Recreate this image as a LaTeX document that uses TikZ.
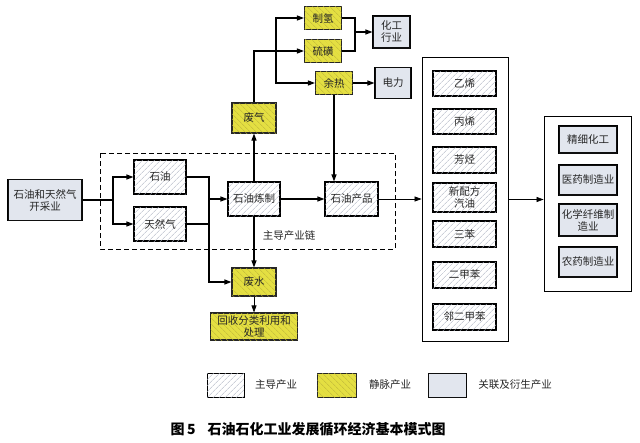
\documentclass[tikz,border=0pt]{standalone}
\usepackage{fontspec}
\setmainfont{Noto Sans CJK SC}
\usetikzlibrary{arrows.meta,patterns.meta}
\definecolor{jmyel}{HTML}{E4DF42}
\definecolor{jmline}{HTML}{BDB53A}
\definecolor{glfill}{HTML}{E6EAF3}
\definecolor{zdline}{HTML}{B0B6C4}
\tikzset{
  every node/.style={font=\fontsize{10.5}{12}\selectfont, align=center, inner sep=0.5pt, text=black!85},
  zd/.style={draw=black, line width=1.1pt, fill=white, postaction={pattern={Lines[angle=45,distance=4pt,line width=0.5pt]}, pattern color=zdline}},
  jm/.style={draw=black!85, line width=1.1pt, fill=jmyel, postaction={pattern={Lines[angle=-45,distance=4pt,line width=0.6pt]}, pattern color=jmline}},
  gl/.style={draw=black, line width=1.1pt, fill=glfill, postaction={pattern={Dots[distance=2pt,radius=0.35pt]}, pattern color=black!25}},
  frame/.style={draw=black, line width=0.8pt},
  conn/.style={line width=1.1pt},
  arr/.style={line width=1.1pt, -{Triangle[length=7pt,width=5pt]}},
  tarr/.style={line width=0.7pt, -{Triangle[length=7pt,width=5pt]}},
}
\begin{document}
\begin{tikzpicture}[x=1pt,y=-1pt]
\useasboundingbox (0,0) rectangle (640,442);
% dashed main chain frame
\draw[line width=0.9pt, dash pattern=on 5pt off 3pt] (100,153) rectangle (395,249);
% nodes
\node[gl, minimum width=74, minimum height=41] (kc) at (45,200) {石油和天然气\\开采业};
\node[zd, minimum width=52, minimum height=34] (sy) at (160,177) {石油};
\node[zd, minimum width=52, minimum height=34] (trq) at (160,224) {天然气};
\node[zd, minimum width=52, minimum height=34] (lz) at (254,199) {石油炼制};
\node[zd, minimum width=53, minimum height=34] (cp) at (351.5,199) {石油产品};
\node (zdl) at (289,236) {主导产业链};
\node[jm, minimum width=44, minimum height=30] (fq) at (254,118) {废气};
\node[jm, minimum width=44, minimum height=28] (fs) at (254,282) {废水};
\node[jm, minimum width=87, minimum height=27] (hs) at (254,326.5) {回收分类利用和\\处理};
\node[jm, minimum width=37, minimum height=23] (zq) at (323,18) {制氢};
\node[jm, minimum width=37, minimum height=23] (lh) at (323,51) {硫磺};
\node[jm, minimum width=37, minimum height=23] (yr) at (334,83) {余热};
\node[gl, minimum width=37, minimum height=32] (hg) at (391.5,32) {化工\\行业};
\node[gl, minimum width=36, minimum height=31] (dl) at (393,83) {电力};
% product column
\node[frame, minimum width=86, minimum height=284] (col) at (465,199.5) {};
\node[zd, minimum width=63, minimum height=25] (yx) at (464.5,83.5) {乙烯};
\node[zd, minimum width=63, minimum height=25] (bx) at (464.5,121.5) {丙烯};
\node[zd, minimum width=63, minimum height=26] (ft) at (464.5,160) {芳烃};
\node[zd, minimum width=63, minimum height=29] (xpf) at (464.5,197.5) {新配方\\汽油};
\node[zd, minimum width=63, minimum height=26] (sb) at (464.5,234) {三苯};
\node[zd, minimum width=63, minimum height=26] (ejb) at (464.5,275) {二甲苯};
\node[zd, minimum width=63, minimum height=26] (lejb) at (464.5,317) {邻二甲苯};
% derived column
\node[frame, minimum width=87, minimum height=175] (rb) at (587.5,203.5) {};
\node[gl, minimum width=58, minimum height=27] (jx) at (588,139.5) {精细化工};
\node[gl, minimum width=58, minimum height=30] (yy) at (588,180) {医药制造业};
\node[gl, minimum width=58, minimum height=32] (hx) at (588,220) {化学纤维制\\造业};
\node[gl, minimum width=58, minimum height=30] (ny) at (588,262) {农药制造业};
% connectors
\coordinate (b1) at (113,200);
\draw[conn] (kc.east) -- (b1);
\draw[arr] (b1) |- (sy.west);
\draw[arr] (b1) |- (trq.west);
\coordinate (b2) at (209,199);
\draw[arr] (sy.east) -| (b2) |- (fs.west);
\draw[conn] (trq.east) -| (b2);
\draw[arr] (b2) -- (lz.west);
\draw[arr] (lz) -- (cp);
\draw[tarr] (cp.east) -- (cp.east -| col.west);
\draw[arr] (lz.north) -- (fq.south);
\draw[arr] (lz.south) -- (fs.north);
\draw[tarr] (fs.south) -- (hs.north);
\draw[arr] (fq.north) |- (lh.west);
\coordinate (b3) at (276,51);
\draw[arr] (b3) |- (zq.west);
\draw[arr] (b3) |- (yr.west);
\coordinate (b4) at (355,32);
\draw[conn] (zq.east) -| (b4);
\draw[conn] (lh.east) -| (b4);
\draw[arr] (b4) -- (hg.west);
\draw[arr] (yr) -- (dl);
\draw[arr] (yr.south) -- (yr.south |- cp.north);
\draw[tarr] (col.east) -- (col.east -| rb.west);
% legend
\node[zd, line width=0.8pt, minimum width=37, minimum height=24] (lg1) at (225.5,385) {};
\node (lt1) at (276,385) {主导产业};
\node[jm, line width=0.8pt, minimum width=39, minimum height=24] (lg2) at (336.5,385) {};
\node (lt2) at (390,385) {静脉产业};
\node[gl, line width=0.8pt, minimum width=38, minimum height=24] (lg3) at (447,385) {};
\node (lt3) at (515,385) {关联及衍生产业};
% caption
\node[anchor=west, font=\fontsize{14}{16}\selectfont\bfseries, text=black] (cap) at (170,429) {图\,5\hspace{12pt}石油石化工业发展循环经济基本模式图};
\end{tikzpicture}
\end{document}
